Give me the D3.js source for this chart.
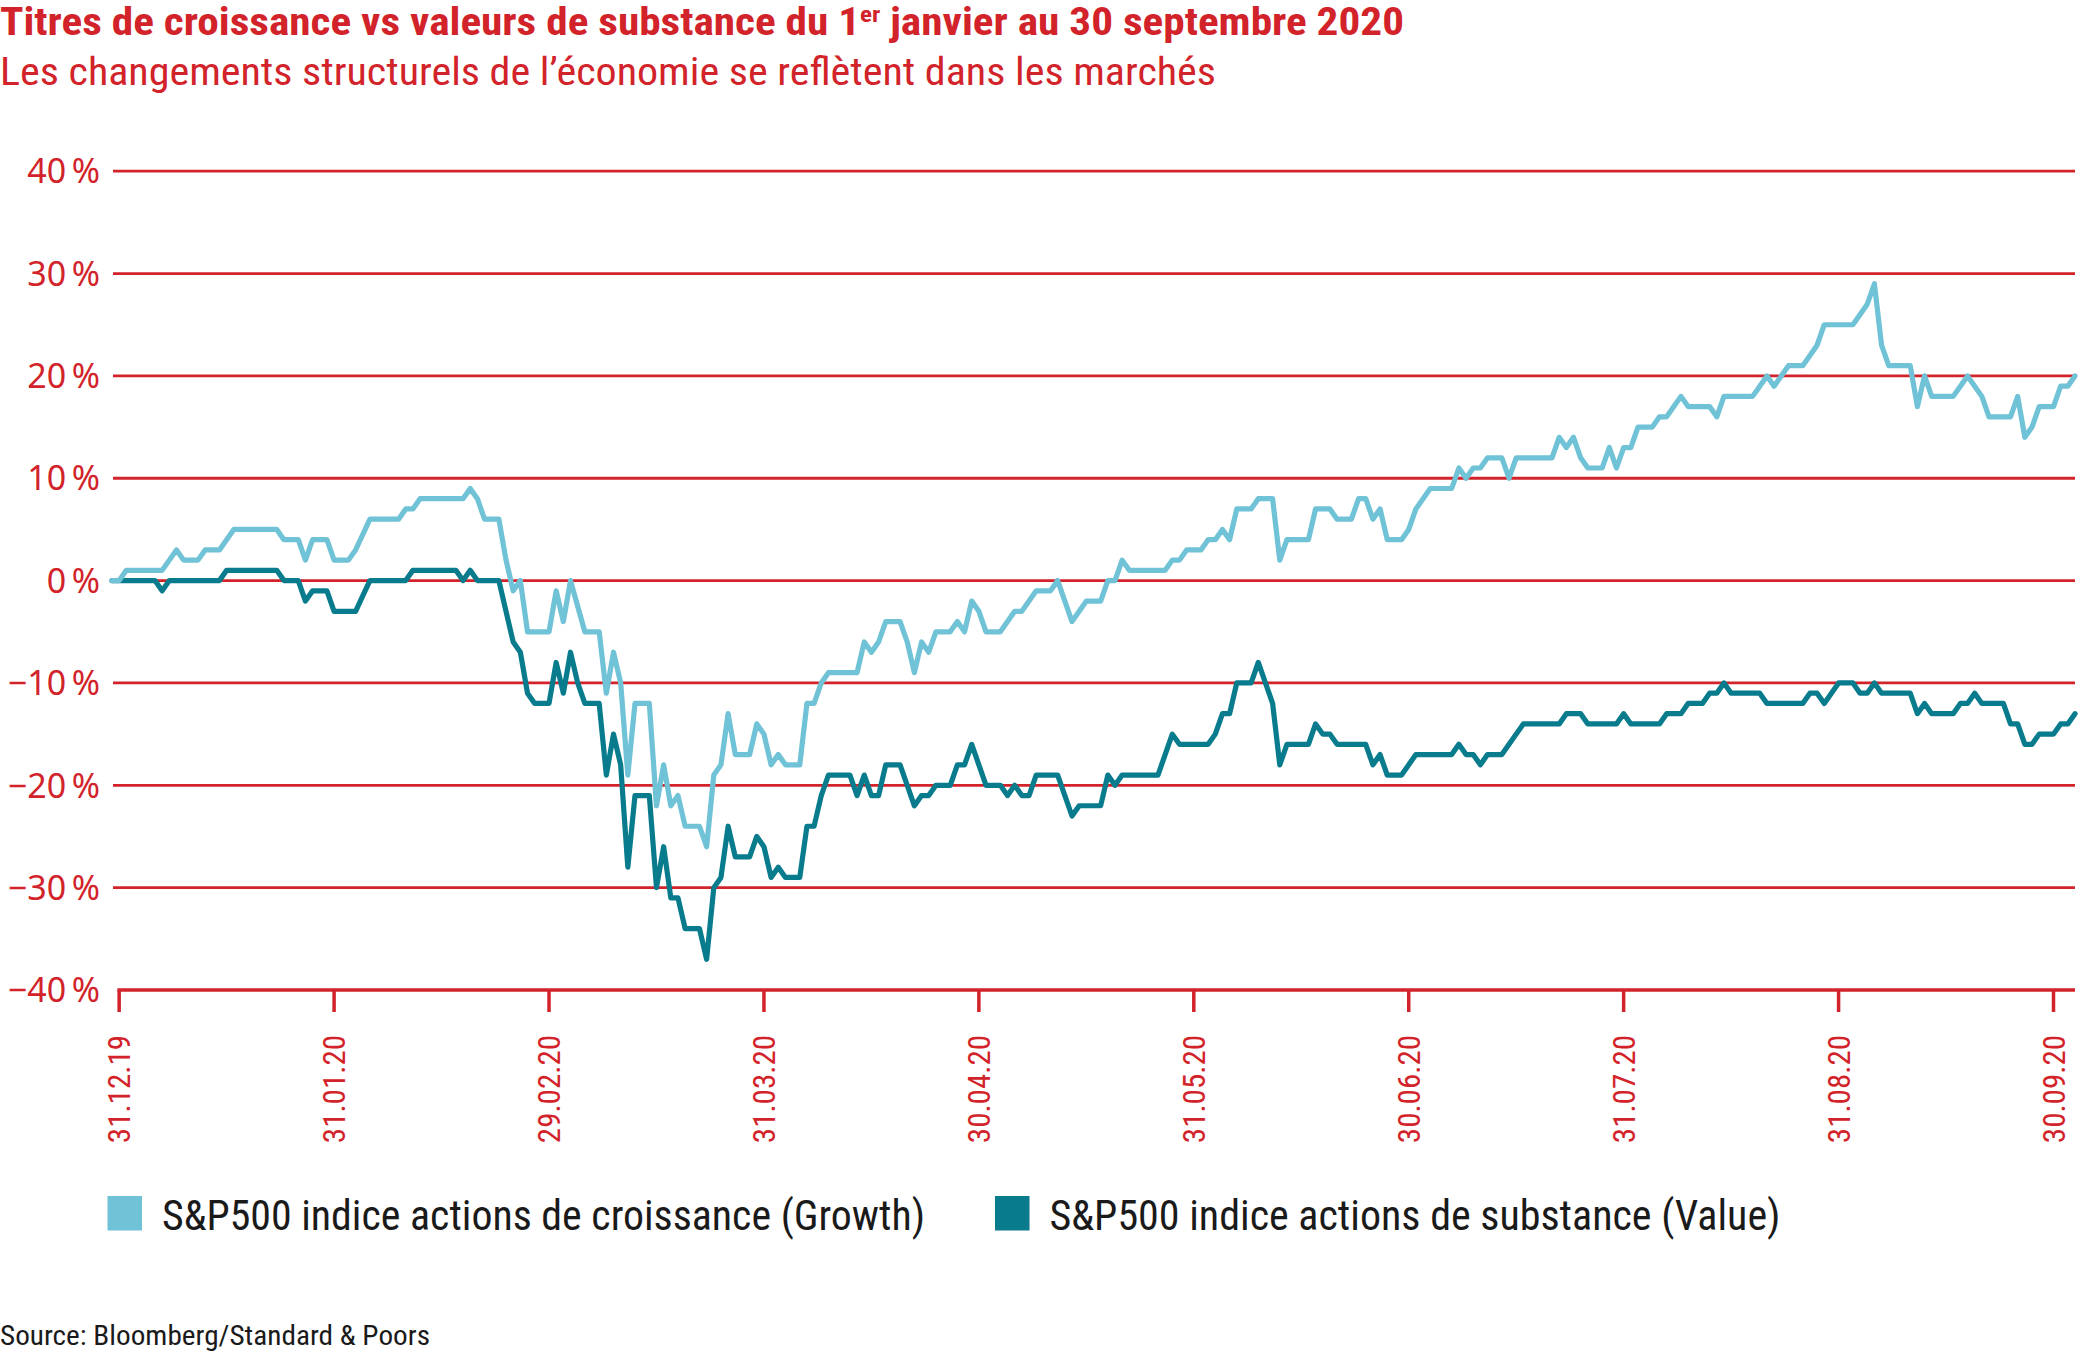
<!DOCTYPE html>
<html>
<head>
<meta charset="utf-8">
<script src="https://cdn.jsdelivr.net/npm/d3@7"></script>
<style>
  html, body { margin: 0; padding: 0; background: #ffffff; }
  svg { display: block; }
</style>
</head>
<body>
<div id="chart"></div>
<script>
// ---------------- DATA ----------------
const titleMain = "Titres de croissance vs valeurs de substance du 1";
const titleSup = "er";
const titleEnd = " janvier au 30 septembre 2020";
const subtitle = "Les changements structurels de l\u2019économie se reflètent dans les marchés";
const sourceText = "Source: Bloomberg/Standard & Poors";

const xTickLabels = ["31.12.19","31.01.20","29.02.20","31.03.20","30.04.20","31.05.20","30.06.20","31.07.20","31.08.20","30.09.20"];
const xTickStepDays = 30;   // one tick per month (≈30 daily points)
const yTicks = [40, 30, 20, 10, 0, -10, -20, -30, -40];
const seriesNames = ["S&P500 indice actions de croissance (Growth)", "S&P500 indice actions de substance (Value)"];

// Daily performance since 31.12.2019, in %
const growth = [
  0,0,1,1,1,1,1,1,2,3,
  2,2,2,3,3,3,4,5,5,5,
  5,5,5,5,4,4,4,2,4,4,
  4,2,2,2,3,4.5,6,6,6,6,
  6,7,7,8,8,8,8,8,8,8,
  9,8,6,6,6,2,-1,0,-5,-5,
  -5,-5,-1,-4,0,-2.5,-5,-5,-5,-11,
  -7,-10,-19,-12,-12,-12,-22,-18,-22,-21,
  -24,-24,-24,-26,-19,-18,-13,-17,-17,-17,
  -14,-15,-18,-17,-18,-18,-18,-12,-12,-10,
  -9,-9,-9,-9,-9,-6,-7,-6,-4,-4,
  -4,-6,-9,-6,-7,-5,-5,-5,-4,-5,
  -2,-3,-5,-5,-5,-4,-3,-3,-2,-1,
  -1,-1,0,-2,-4,-3,-2,-2,-2,0,
  0,2,1,1,1,1,1,1,2,2,
  3,3,3,4,4,5,4,7,7,7,
  8,8,8,2,4,4,4,4,7,7,
  7,6,6,6,8,8,6,7,4,4,
  4,5,7,8,9,9,9,9,11,10,
  11,11,12,12,12,10,12,12,12,12,
  12,12,14,13,14,12,11,11,11,13,
  11,13,13,15,15,15,16,16,17,18,
  17,17,17,17,16,18,18,18,18,18,
  19,20,19,20,21,21,21,22,23,25,
  25,25,25,25,26,27,29,23,21,21,
  21,21,17,20,18,18,18,18,19,20,
  19,18,16,16,16,16,18,14,15,17,
  17,17,19,19,20
];
const value = [
  0,0,0,0,0,0,0,-1,0,0,
  0,0,0,0,0,0,1,1,1,1,
  1,1,1,1,0,0,0,-2,-1,-1,
  -1,-3,-3,-3,-3,-1.5,0,0,0,0,
  0,0,1,1,1,1,1,1,1,0,
  1,0,0,0,0,-3,-6,-7,-11,-12,
  -12,-12,-8,-11,-7,-10,-12,-12,-12,-19,
  -15,-18,-28,-21,-21,-21,-30,-26,-31,-31,
  -34,-34,-34,-37,-30,-29,-24,-27,-27,-27,
  -25,-26,-29,-28,-29,-29,-29,-24,-24,-21,
  -19,-19,-19,-19,-21,-19,-21,-21,-18,-18,
  -18,-20,-22,-21,-21,-20,-20,-20,-18,-18,
  -16,-18,-20,-20,-20,-21,-20,-21,-21,-19,
  -19,-19,-19,-21,-23,-22,-22,-22,-22,-19,
  -20,-19,-19,-19,-19,-19,-19,-17,-15,-16,
  -16,-16,-16,-16,-15,-13,-13,-10,-10,-10,
  -8,-10,-12,-18,-16,-16,-16,-16,-14,-15,
  -15,-16,-16,-16,-16,-16,-18,-17,-19,-19,
  -19,-18,-17,-17,-17,-17,-17,-17,-16,-17,
  -17,-18,-17,-17,-17,-16,-15,-14,-14,-14,
  -14,-14,-14,-13,-13,-13,-14,-14,-14,-14,
  -14,-13,-14,-14,-14,-14,-14,-13,-13,-13,
  -12,-12,-12,-11,-11,-10,-11,-11,-11,-11,
  -11,-12,-12,-12,-12,-12,-12,-11,-11,-12,
  -11,-10,-10,-10,-11,-11,-10,-11,-11,-11,
  -11,-11,-13,-12,-13,-13,-13,-13,-12,-12,
  -11,-12,-12,-12,-12,-14,-14,-16,-16,-15,
  -15,-15,-14,-14,-13
];

// ---------------- STYLE ----------------
const RED = "#d2232a";
const LIGHT = "#70c2d6";
const DARK = "#087b8d";
const NARROW = "'Liberation Sans Narrow', 'Roboto Condensed', 'Arial Narrow', 'Liberation Sans', sans-serif";
const WIDE = "'Noto Sans', 'DejaVu Sans', sans-serif";

const W = 2081, H = 1354;
const svg = d3.select("#chart").append("svg").attr("width", W).attr("height", H);

const N = growth.length;
const x = d3.scaleLinear().domain([0, N - 1]).range([112, 2075]);
const y = d3.scaleLinear().domain([-40, 40]).range([990, 171.2]);

// Title
const t = svg.append("text")
  .attr("x", 0).attr("y", 35)
  .attr("fill", RED)
  .attr("font-family", NARROW)
  .attr("font-weight", "bold")
  .attr("font-size", 38)
  .attr("textLength", 1404)
  .attr("lengthAdjust", "spacingAndGlyphs");
t.append("tspan").text(titleMain);
t.append("tspan").attr("font-size", 22).attr("dy", -13).text(titleSup);
t.append("tspan").attr("dy", 13).text(titleEnd);

svg.append("text")
  .attr("x", 0).attr("y", 85)
  .attr("fill", RED)
  .attr("font-family", NARROW)
  .attr("font-size", 39)
  .attr("textLength", 1216)
  .attr("lengthAdjust", "spacingAndGlyphs")
  .text(subtitle);

// Gridlines
svg.append("g").selectAll("line")
  .data(yTicks.filter(d => d !== -40))
  .join("line")
  .attr("x1", 113).attr("x2", x(N - 1))
  .attr("y1", d => y(d)).attr("y2", d => y(d))
  .attr("stroke", RED).attr("stroke-width", 2.8);

// Y labels
svg.append("g").selectAll("text")
  .data(yTicks)
  .join("text")
  .attr("x", 100).attr("y", d => y(d))
  .attr("dy", "0.36em")
  .attr("text-anchor", "end")
  .attr("fill", RED)
  .attr("font-family", WIDE)
  .attr("font-size", 34)
  .text(d => (d < 0 ? "\u2212" + Math.abs(d) : d) + "\u2009%");

// X axis line and ticks
const tickIdx = xTickLabels.map((_, k) => 1 + k * xTickStepDays);
svg.append("line")
  .attr("x1", x(tickIdx[0]) - 1.75).attr("x2", x(N - 1))
  .attr("y1", y(-40)).attr("y2", y(-40))
  .attr("stroke", RED).attr("stroke-width", 3.5);
svg.append("g").selectAll("line")
  .data(tickIdx)
  .join("line")
  .attr("x1", d => x(d)).attr("x2", d => x(d))
  .attr("y1", y(-40)).attr("y2", y(-40) + 22)
  .attr("stroke", RED).attr("stroke-width", 3.5);
svg.append("g").selectAll("text")
  .data(xTickLabels)
  .join("text")
  .attr("transform", (d, i) => `translate(${x(tickIdx[i])},1035) rotate(-90)`)
  .attr("dy", "0.36em")
  .attr("text-anchor", "end")
  .attr("fill", RED)
  .attr("font-family", NARROW)
  .attr("font-size", 31)
  .text(d => d);

// Lines
const line = d3.line().x((d, i) => x(i)).y(d => y(d)).curve(d3.curveLinear);
svg.append("path").datum(value)
  .attr("d", line).attr("fill", "none")
  .attr("stroke", DARK).attr("stroke-width", 5.2)
  .attr("stroke-linejoin", "round").attr("stroke-linecap", "round");
svg.append("path").datum(growth)
  .attr("d", line).attr("fill", "none")
  .attr("stroke", LIGHT).attr("stroke-width", 5.2)
  .attr("stroke-linejoin", "round").attr("stroke-linecap", "round");

// Legend
const legendX = [107.5, 995];
const legendW = [763, 731];
const legendColors = [LIGHT, DARK];
const lg = svg.append("g");
seriesNames.forEach((name, i) => {
  lg.append("rect").attr("x", legendX[i]).attr("y", 1196).attr("width", 34.5).attr("height", 34.5).attr("fill", legendColors[i]);
  lg.append("text")
    .attr("x", legendX[i] + 54.5).attr("y", 1230)
    .attr("fill", "#1a1a1a")
    .attr("font-family", NARROW)
    .attr("font-size", 42)
    .attr("textLength", legendW[i])
    .attr("lengthAdjust", "spacingAndGlyphs")
    .text(name);
});

// Source
svg.append("text")
  .attr("x", 0).attr("y", 1345)
  .attr("fill", "#1a1a1a")
  .attr("font-family", NARROW)
  .attr("font-size", 28)
  .attr("textLength", 430)
  .attr("lengthAdjust", "spacingAndGlyphs")
  .text(sourceText);
</script>
</body>
</html>
